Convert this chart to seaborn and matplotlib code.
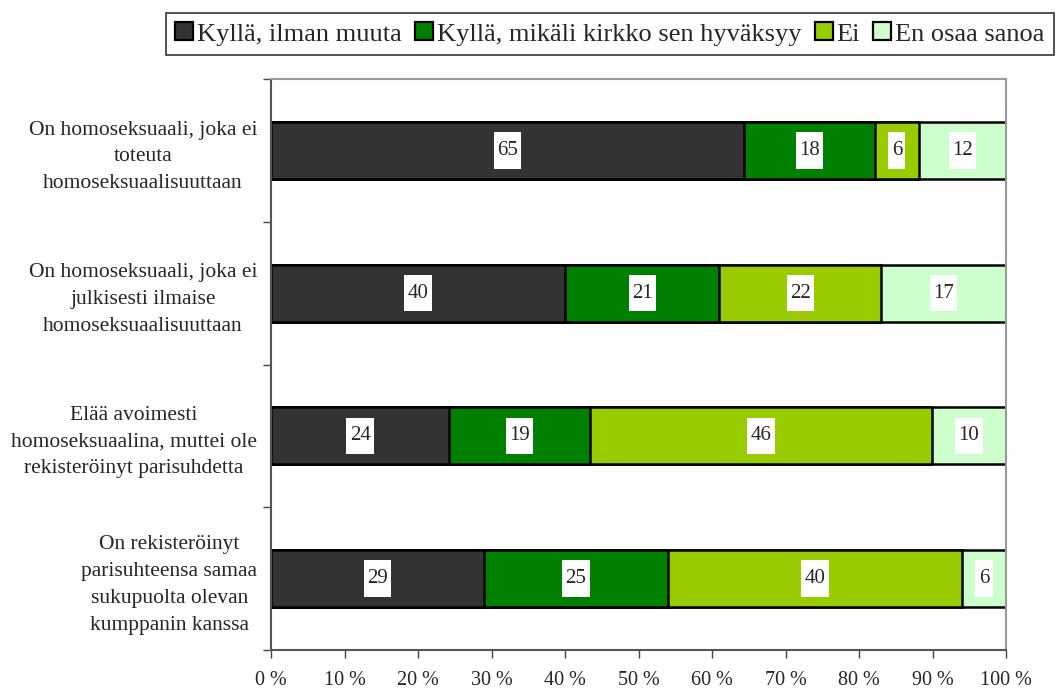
import numpy as np
import pandas as pd
import matplotlib
matplotlib.use("Agg")
import matplotlib.pyplot as plt
import seaborn as sns
from matplotlib.patches import Patch
from matplotlib.path import Path
from matplotlib.ticker import MultipleLocator, FixedLocator


CATEGORIES = [
    "On homoseksuaali, joka ei\ntoteuta\nhomoseksuaalisuuttaan",
    "On homoseksuaali, joka ei\njulkisesti ilmaise\nhomoseksuaalisuuttaan",
    "Elää avoimesti\nhomoseksuaalina, muttei ole\nrekisteröinyt parisuhdetta",
    "On rekisteröinyt\nparisuhteensa samaa\nsukupuolta olevan\nkumppanin kanssa",
]
SERIES = ["Kyllä, ilman muuta", "Kyllä, mikäli kirkko sen hyväksyy", "Ei", "En osaa sanoa"]
KYLLA = [65, 40, 24, 29]
KYLLA_EHDOIN = [18, 21, 19, 25]
EI = [6, 22, 46, 40]
EOS = [12, 17, 10, 6]

COLORS = ["#333333", "#008000", "#99cc00", "#ccffcc"]

sns.set_style("white")
plt.rcParams["font.family"] = ["Liberation Serif", "DejaVu Serif"]


def tall_box(x0, y0, width, height, mutation_size):
    # white label box, taller than wide padding (like the original)
    px = 0.16 * mutation_size
    py = 0.42 * mutation_size
    x0, y0 = x0 - px, y0 - py
    x1, y1 = x0 + width + 2 * px, y0 + height + 2 * py
    return Path([(x0, y0), (x1, y0), (x1, y1), (x0, y1), (x0, y0)], closed=True)


values = np.array([KYLLA, KYLLA_EHDOIN, EI, EOS], dtype=float).T
shares = values / values.sum(axis=1, keepdims=True) * 100
cum = np.cumsum(shares, axis=1)

fig = plt.figure(figsize=(10.57, 6.91), dpi=100)
ax = fig.add_axes([0.2564, 0.0593, 0.6954, 0.8264])

# stacked bars: draw cumulative totals from widest to narrowest
for i in reversed(range(len(SERIES))):
    df = pd.DataFrame({"cat": CATEGORIES, "val": cum[:, i]})
    sns.barplot(data=df, x="val", y="cat", orient="h", color=COLORS[i],
                saturation=1, width=0.4, edgecolor="black", linewidth=1.8, ax=ax)

for r in range(len(CATEGORIES)):
    start = 0
    for i in range(len(SERIES)):
        mid = start + shares[r, i] / 2
        ax.text(mid, r, str(int(values[r, i])), ha="center", va="center", fontsize=15,
                bbox=dict(boxstyle=tall_box, fc="white", ec="none"))
        start = cum[r, i]

ax.set_xlim(0, 100)
ax.set_ylim(3.5, -0.5)
ax.xaxis.set_major_locator(MultipleLocator(10))
ax.set_xticklabels([f"{int(t)} %" for t in ax.get_xticks()])
ax.yaxis.set_minor_locator(FixedLocator(np.arange(-0.5, 4, 1)))
ax.tick_params(axis="y", which="major", length=0, labelsize=15.5, pad=10)
ax.tick_params(axis="y", which="minor", length=6, width=1, color="#444444", left=True)
ax.tick_params(axis="x", length=6, width=1, color="#444444", bottom=True, labelsize=14.5, pad=9)
for lab in ax.get_yticklabels():
    lab.set_multialignment("center")
    lab.set_linespacing(1.55)
ax.set_xlabel("")
ax.set_ylabel("")

for side in ["top", "right"]:
    ax.spines[side].set_visible(True)
    ax.spines[side].set_color("#999999")
    ax.spines[side].set_linewidth(1.5)
for side in ["left", "bottom"]:
    ax.spines[side].set_color("#555555")
    ax.spines[side].set_linewidth(1.5)

handles = [Patch(facecolor=c, edgecolor="black", linewidth=1.6) for c in COLORS]
leg = fig.legend(handles, SERIES, loc="upper center", bbox_to_anchor=(0.577, 0.981),
                 ncol=4, fontsize=19, frameon=True, fancybox=False, edgecolor="black",
                 handlelength=0.68, handleheight=0.68, handletextpad=0.15,
                 columnspacing=0.5, borderpad=0.35, borderaxespad=0)
leg.get_frame().set_linewidth(1.2)

fig.savefig("out.png", dpi=100)
